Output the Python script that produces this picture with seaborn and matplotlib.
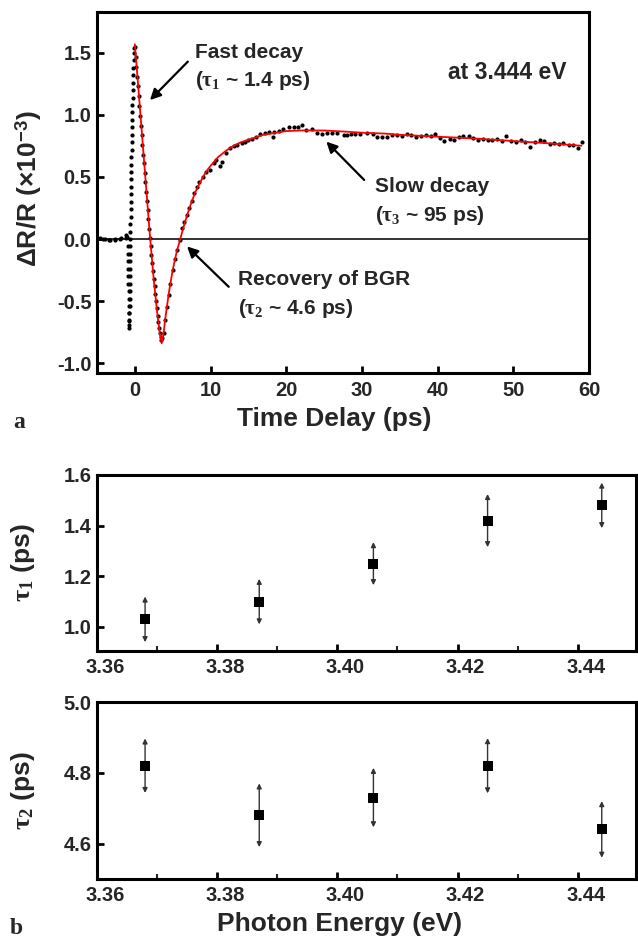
import numpy as np
import pandas as pd
import matplotlib
matplotlib.use("Agg")
import matplotlib.pyplot as plt
import matplotlib.transforms as mtransforms
from matplotlib.ticker import MultipleLocator, FormatStrFormatter
import seaborn as sns

#%% DATA

# panel a : measured dR/R (x1e-3) vs time delay (ps), black dots
t_pre = [-4.6, -4.2, -3.9, -3.4, -3.3, -2.65, -2.6, -1.9, -1.85, -1.2, -1.15, -0.98]
v_pre = [0.01, 0.0, 0.0, -0.01, -0.01, -0.01, 0.0, 0.0, 0.01, 0.01, 0.03, 0.02]

t_fall = [-0.95, -0.93, -0.91, -0.89, -0.87, -0.85, -0.83, -0.81, -0.79, -0.77, -0.75, -0.74, -0.73]
v_fall = [-0.06, -0.12, -0.18, -0.24, -0.30, -0.36, -0.42, -0.48, -0.54, -0.60, -0.65, -0.69, -0.72]

t_rise = [-0.72, -0.71, -0.70, -0.69, -0.68, -0.67, -0.66, -0.65, -0.64, -0.63, -0.62, -0.61,
          -0.60, -0.58, -0.57, -0.56, -0.54, -0.53, -0.51, -0.50, -0.48, -0.47, -0.45, -0.43,
          -0.41, -0.39, -0.37, -0.35, -0.33, -0.31, -0.29, -0.27, -0.25, -0.22, -0.19, -0.16,
          -0.13, -0.09]
v_rise = [-0.66, -0.60, -0.54, -0.48, -0.42, -0.36, -0.30, -0.24, -0.18, -0.12, -0.06, 0.0,
          0.06, 0.12, 0.18, 0.24, 0.30, 0.36, 0.42, 0.48, 0.54, 0.60, 0.66, 0.72,
          0.78, 0.84, 0.90, 0.96, 1.02, 1.08, 1.14, 1.20, 1.26, 1.32, 1.38, 1.44,
          1.50, 1.54]

t_drop = [0.0, 0.1, 0.2, 0.3, 0.4, 0.5, 0.6, 0.7, 0.8, 0.9, 1.0, 1.1, 1.2, 1.3, 1.4, 1.5, 1.6,
          1.7, 1.8, 1.9, 2.0, 2.1, 2.2, 2.3, 2.4, 2.5, 2.6, 2.7, 2.8, 2.9, 3.0, 3.1, 3.2, 3.3,
          3.4, 3.5, 3.6]
v_drop = [1.55, 1.47, 1.39, 1.31, 1.23, 1.15, 1.07, 0.99, 0.91, 0.84, 0.76, 0.68, 0.61, 0.53,
          0.46, 0.38, 0.31, 0.23, 0.16, 0.08, 0.01, -0.06, -0.13, -0.19, -0.26, -0.32, -0.38,
          -0.44, -0.50, -0.56, -0.62, -0.67, -0.72, -0.76, -0.79, -0.81, -0.80]

t_rec = [3.8, 4.02, 4.24, 4.46, 4.68, 5.03, 5.34, 5.56, 5.92, 6.18, 6.49, 6.84, 7.2, 7.5, 7.8,
         8.17, 8.52, 8.96, 9.4, 9.93, 10.4, 10.7, 11.2, 11.5, 12.05, 12.6, 13.1, 13.5, 14.1,
         14.6, 15.0, 15.5, 16.0, 16.6, 17.2, 17.7, 18.2, 18.4, 19.0, 19.6, 20.3, 21.0, 21.5,
         22.1, 22.6, 23.4, 24.1, 24.7, 25.4, 26.05, 26.7, 27.6, 28.0, 28.6, 29.1, 29.8, 30.7,
         31.4, 32.0, 32.7, 33.3]
v_rec = [-0.76, -0.65, -0.55, -0.45, -0.36, -0.25, -0.16, -0.09, -0.01, 0.086, 0.14, 0.19,
         0.25, 0.31, 0.37, 0.42, 0.46, 0.50, 0.54, 0.56, 0.61, 0.64, 0.59, 0.62, 0.69, 0.73,
         0.75, 0.76, 0.77, 0.78, 0.80, 0.81, 0.825, 0.85, 0.857, 0.86, 0.82, 0.865, 0.873,
         0.89, 0.90, 0.90, 0.90, 0.92, 0.88, 0.885, 0.857, 0.85, 0.857, 0.857, 0.857, 0.84,
         0.84, 0.847, 0.85, 0.845, 0.857, 0.85, 0.825, 0.825, 0.825]

t_tail = [34.0, 34.6, 35.3, 35.9, 36.5, 37.2, 37.8, 38.4, 39.1, 39.7, 40.3, 40.9, 41.6, 42.2,
          42.8, 43.4, 44.1, 44.7, 45.3, 46.0, 46.6, 47.2, 47.8, 48.5, 49.1, 49.7, 50.4, 51.0,
          51.6, 52.2, 52.9, 53.5, 54.1, 54.8, 55.4, 56.0, 56.6, 57.3, 57.9, 58.5, 59.1]
v_tail = [0.84, 0.835, 0.83, 0.85, 0.835, 0.825, 0.83, 0.84, 0.83, 0.845, 0.815, 0.79, 0.81,
          0.80, 0.825, 0.83, 0.83, 0.815, 0.80, 0.81, 0.80, 0.80, 0.805, 0.79, 0.83, 0.79,
          0.785, 0.795, 0.78, 0.745, 0.78, 0.80, 0.79, 0.765, 0.77, 0.765, 0.77, 0.755, 0.76,
          0.735, 0.78]

# panel a : fit (red line)
t_fit = [0.0, 0.5, 1.0, 1.5, 2.0, 2.5, 3.0, 3.3, 3.55, 3.8, 4.0, 4.5, 5.0, 5.5, 6.0, 6.5, 7.0,
         7.5, 8.0, 8.5, 9.0, 9.5, 10, 11, 12, 13, 14, 15, 16, 17, 18, 19, 20, 22, 25, 28, 30,
         33, 35, 40, 45, 50, 55, 59]
v_fit = [1.57, 1.19, 0.80, 0.41, 0.02, -0.33, -0.62, -0.76, -0.84, -0.76, -0.65, -0.43, -0.25,
         -0.11, 0.0, 0.11, 0.21, 0.30, 0.38, 0.44, 0.50, 0.55, 0.59, 0.66, 0.71, 0.75, 0.78,
         0.80, 0.82, 0.84, 0.85, 0.86, 0.87, 0.875, 0.875, 0.865, 0.857, 0.85, 0.84, 0.825,
         0.81, 0.79, 0.77, 0.752]

# panel b : time constants vs photon energy
energy = [3.368, 3.387, 3.406, 3.425, 3.444]
tau1 = [1.03, 1.10, 1.25, 1.42, 1.48]
tau1_err = [0.09, 0.09, 0.085, 0.105, 0.09]
tau2 = [4.82, 4.68, 4.73, 4.82, 4.64]
tau2_err = [0.077, 0.09, 0.084, 0.078, 0.08]

#%% STYLE
sns.set_style("ticks")
plt.rcParams['font.family'] = ['Liberation Sans', 'DejaVu Sans']
plt.rcParams['font.weight'] = 'bold'
plt.rcParams['axes.labelweight'] = 'bold'
plt.rcParams['axes.unicode_minus'] = False
plt.rcParams['mathtext.fontset'] = 'custom'
plt.rcParams['mathtext.rm'] = 'Liberation Serif'
plt.rcParams['mathtext.it'] = 'Liberation Serif'
plt.rcParams['mathtext.bf'] = 'Liberation Sans:bold'

tick_fs = 14.5
lab_fs = 19
ann_fs = 15

fig = plt.figure(figsize=(6.38, 9.41), dpi=100)
ax_a = fig.add_axes([97/638, 1-373/941, 492/638, 361/941])
ax_b1 = fig.add_axes([97/638, 1-651/941, 539/638, 176/941])
ax_b2 = fig.add_axes([97/638, 1-879/941, 539/638, 177/941])

def frame(ax, xpad=6):
    for s in ax.spines.values():
        s.set_linewidth(2.2)
        s.set_color('black')
    ax.tick_params(which='major', direction='in', length=5, width=2, labelsize=tick_fs,
                   pad=4, top=False, right=False, color='black')
    ax.tick_params(axis='x', which='major', pad=xpad)
    ax.tick_params(which='minor', direction='in', length=3.5, width=1.5, top=False, right=False)
    for lb in ax.get_xticklabels() + ax.get_yticklabels():
        lb.set_fontweight('bold')

#%% PANEL a
dots = pd.DataFrame({
    't': t_pre + t_fall + t_rise + t_drop + t_rec + t_tail,
    'v': v_pre + v_fall + v_rise + v_drop + v_rec + v_tail})
fit = pd.DataFrame({'t': t_fit, 'v': v_fit})

ax_a.axhline(0, color='#222222', lw=1.3, zorder=1)
sns.scatterplot(data=dots, x='t', y='v', ax=ax_a, s=9, color='black', linewidth=0, zorder=2)
sns.lineplot(data=fit, x='t', y='v', ax=ax_a, color='red', lw=1.3, sort=False,
             estimator=None, zorder=3)

ax_a.set_xlim(-5, 60)
ax_a.set_ylim(-1.08, 1.83)
ax_a.xaxis.set_major_locator(MultipleLocator(10))
ax_a.yaxis.set_major_locator(MultipleLocator(0.5))
ax_a.yaxis.set_major_formatter(FormatStrFormatter('%.1f'))
frame(ax_a)
ax_a.set_xlabel('Time Delay (ps)', fontsize=lab_fs)
ax_a.set_ylabel(r'ΔR/R (×10$^{\mathbf{-3}}$)', fontsize=lab_fs)
ax_a.xaxis.set_label_coords(0.483, -0.094)
ax_a.yaxis.set_label_coords(-0.108, 0.51)

arw = dict(arrowstyle='-|>', color='black', lw=1.6, mutation_scale=16, shrinkA=0, shrinkB=0)
ax_a.annotate('', xy=(2.0, 1.12), xytext=(7.0, 1.43), arrowprops=arw)
ax_a.annotate('', xy=(25.3, 0.785), xytext=(30.3, 0.476), arrowprops=arw)
ax_a.annotate('', xy=(6.9, -0.06), xytext=(12.4, -0.385), arrowprops=arw)

ax_a.text(7.95, 1.50, 'Fast decay', fontsize=ann_fs, va='center', ha='left')
ax_a.text(7.95, 1.28, r'($\mathrm{\tau}_{\mathrm{1}}$ ~ 1.4 ps)', fontsize=ann_fs, va='center', ha='left')
ax_a.text(57.0, 1.34, 'at 3.444 eV', fontsize=16.5, va='center', ha='right')
ax_a.text(31.7, 0.42, 'Slow decay', fontsize=ann_fs, va='center', ha='left')
ax_a.text(31.7, 0.19, r'($\mathrm{\tau}_{\mathrm{3}}$ ~ 95 ps)', fontsize=ann_fs, va='center', ha='left')
ax_a.text(13.6, -0.33, 'Recovery of BGR', fontsize=ann_fs, va='center', ha='left')
ax_a.text(13.6, -0.56, r'($\mathrm{\tau}_{\mathrm{2}}$ ~ 4.6 ps)', fontsize=ann_fs, va='center', ha='left')

#%% PANEL b
def tau_panel(ax, vals, errs, ylim, ystep, ylabel):
    df = pd.DataFrame({'E': energy, 'tau': vals, 'err': errs})
    for _, r in df.iterrows():
        ax.annotate('', xy=(r['E'], r['tau'] + r['err']), xytext=(r['E'], r['tau'] - r['err']),
                    arrowprops=dict(arrowstyle='<|-|>', color='#333333', lw=1.0,
                                    mutation_scale=7, shrinkA=0, shrinkB=0))
    sns.scatterplot(data=df, x='E', y='tau', ax=ax, marker='s', s=60, color='black',
                    linewidth=0, zorder=3)
    ax.set_xlim(3.36, 3.4497)
    ax.set_ylim(*ylim)
    ax.xaxis.set_major_locator(MultipleLocator(0.02))
    ax.xaxis.set_minor_locator(MultipleLocator(0.01))
    ax.xaxis.set_major_formatter(FormatStrFormatter('%.2f'))
    ax.yaxis.set_major_locator(MultipleLocator(ystep))
    ax.yaxis.set_major_formatter(FormatStrFormatter('%.1f'))
    frame(ax, xpad=5)
    # the x tick labels sit a little right of their ticks in the original
    shift = mtransforms.ScaledTranslation(8/100, 0, fig.dpi_scale_trans)
    for lb in ax.get_xticklabels():
        lb.set_transform(lb.get_transform() + shift)
    ax.set_xlabel('')
    ax.set_ylabel(ylabel, fontsize=lab_fs)
    ax.yaxis.set_label_coords(-0.111, 0.5)

tau_panel(ax_b1, tau1, tau1_err, (0.905, 1.6), 0.2, r'$\mathrm{\tau}_{\mathrm{1}}$ (ps)')
tau_panel(ax_b2, tau2, tau2_err, (4.5, 5.0), 0.2, r'$\mathrm{\tau}_{\mathrm{2}}$ (ps)')
ax_b2.set_xlabel('Photon Energy (eV)', fontsize=lab_fs)
ax_b2.xaxis.set_label_coords(0.45, -0.186)

fig.text(19/638, 1-422/941, 'a', family='Liberation Serif', fontsize=17, fontweight='bold',
         ha='center', va='center')
fig.text(16/638, 1-928/941, 'b', family='Liberation Serif', fontsize=17, fontweight='bold',
         ha='center', va='center')

fig.savefig('out.png', dpi=100)
